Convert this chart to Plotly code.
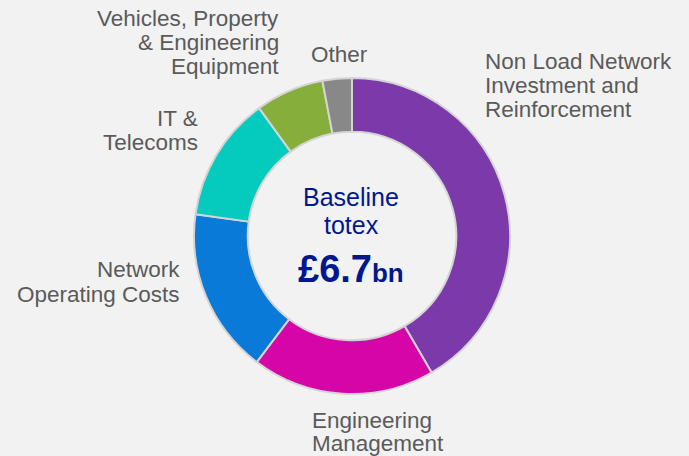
import plotly.graph_objects as go

# ---- data ----
categories = [
    "Non Load Network<br>Investment and<br>Reinforcement",
    "Engineering<br>Management",
    "Network<br>Operating Costs",
    "IT &<br>Telecoms",
    "Vehicles, Property<br>& Engineering<br>Equipment",
    "Other",
]
shares = [41.6, 18.7, 16.9, 12.8, 7.0, 3.0]
colors = ["#7B39A9", "#D605A8", "#0A7AD9", "#05CABE", "#86AE3A", "#888888"]
centre_lines = ["Baseline", "totex"]
centre_value = "£6.7"
centre_unit = "bn"

W, H = 689, 456
BG = "#F2F2F2"
FONT = "Arial, Liberation Sans, sans-serif"
LABEL_COLOR = "#5A5A5A"
NAVY = "#00188F"

# label layout: (x px, anchor, [baseline px per line])
label_layout = [
    (484, "left", [69, 93, 117]),
    (311, "left", [428, 451]),
    (181, "right", [277, 302]),
    (199, "right", [126, 150]),
    (280, "right", [26, 50, 74]),
    (310, "left", [62]),
]

fig = go.Figure()
fig.add_trace(go.Pie(
    labels=categories,
    values=shares,
    sort=False,
    direction="clockwise",
    rotation=0,
    hole=0.66,
    marker=dict(colors=colors, line=dict(color="#D4D4D4", width=2)),
    textinfo="none",
    hoverinfo="label+percent",
    showlegend=False,
    domain=dict(x=[194 / W, 510 / W], y=[1 - 394 / H, 1 - 78 / H]),
))


def px_y(baseline, fs):
    return 1 - (baseline - 0.35 * fs) / H


annotations = []
LFS = 22.5
for cat, (xp, anchor, bls) in zip(categories, label_layout):
    for line, bl in zip(cat.split("<br>"), bls):
        annotations.append(dict(
            x=xp / W, y=px_y(bl, LFS), xref="paper", yref="paper",
            xanchor=anchor, yanchor="middle", text=line, showarrow=False,
            borderpad=0, font=dict(family=FONT, size=LFS, color=LABEL_COLOR),
        ))

CFS = 25
for line, bl in zip(centre_lines, [206, 234]):
    annotations.append(dict(
        x=351 / W, y=px_y(bl, CFS), xref="paper", yref="paper",
        xanchor="center", yanchor="middle", text=line, showarrow=False,
        borderpad=0, font=dict(family=FONT, size=CFS, color=NAVY),
    ))

VFS = 38
annotations.append(dict(
    x=351 / W, y=px_y(282, VFS), xref="paper", yref="paper",
    xanchor="center", yanchor="middle",
    text=f"<b>{centre_value}</b><b><span style='font-size:26px'>{centre_unit}</span></b>",
    showarrow=False, borderpad=0,
    font=dict(family=FONT, size=VFS, color=NAVY),
))

fig.update_layout(
    width=W, height=H,
    margin=dict(l=0, r=0, t=0, b=0),
    paper_bgcolor=BG, plot_bgcolor=BG,
    annotations=annotations,
)

fig.write_html(
    "out.html",
    config={"displayModeBar": False},
    post_script="document.body.style.margin='0';document.body.style.background='#F2F2F2';",
)
